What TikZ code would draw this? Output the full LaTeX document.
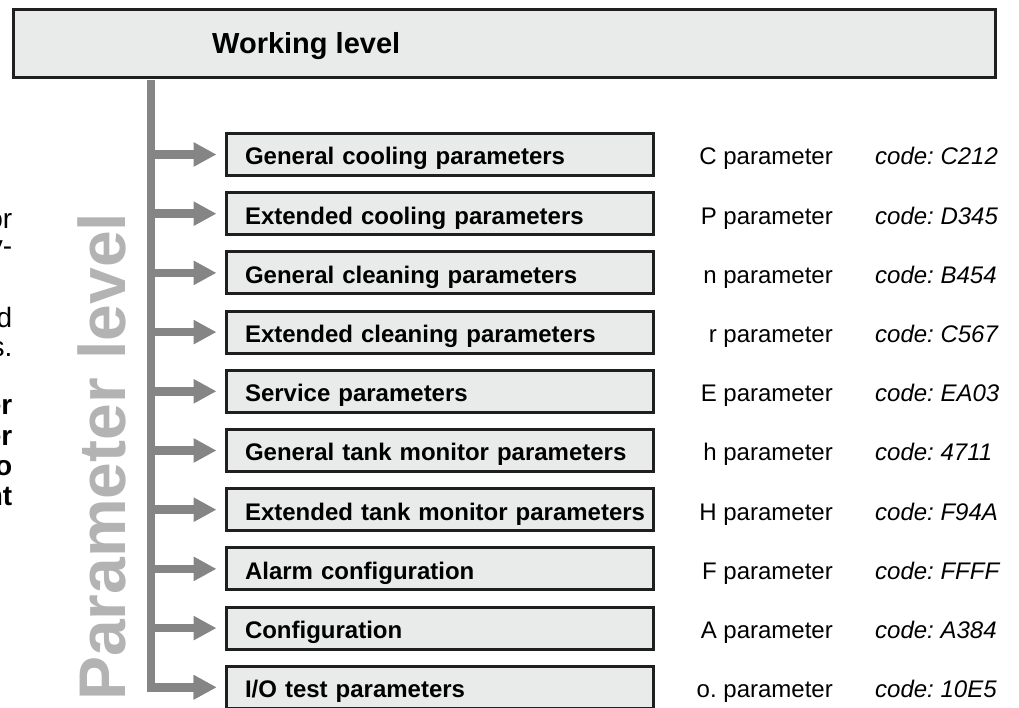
\documentclass[tikz,border=0pt]{standalone}
\usepackage{fontspec}
\setmainfont{Liberation Sans}
\usetikzlibrary{arrows.meta}
\definecolor{boxfill}{HTML}{E9EAEA}
\definecolor{branchgray}{HTML}{858585}
\definecolor{markgray}{HTML}{B3B3B3}
\frenchspacing
\begin{document}
\begin{tikzpicture}[x=1pt, y=1pt, line join=miter,
	levelbox/.style={draw=black!88, fill=boxfill, line width=3pt, inner sep=0pt},
	parbox/.style={levelbox, anchor=west, minimum width=427pt, minimum height=42pt, text width=389pt, inner xsep=19pt, align=left, text height=23pt, text depth=2pt, font=\fontsize{24}{28}\selectfont\bfseries},
	plabel/.style={anchor=base east, inner sep=0pt, font=\fontsize{24}{28}\selectfont},
	clabel/.style={anchor=base west, inner sep=0pt, font=\fontsize{24}{28}\selectfont\itshape},
	frag/.style={anchor=base east, inner sep=0pt, font=\fontsize{28}{32}\selectfont},
	branch/.style={branchgray, line width=8.5pt, -{Triangle[length=23pt, width=23pt]}, shorten >=8pt}]
	\useasboundingbox (0,0) rectangle (1019,707);
	\clip (0,0) rectangle (1019,707);
	% cut-off text at the left edge
	\node[frag] (f1) at (12.5,478) {or};
	\node[frag] (f2) at (12.5,451) {y-};
	\node[frag] (f3) at (12.5,379) {d};
	\node[frag] (f4) at (12.5,350) {s.};
	\node[frag, font=\fontsize{28}{32}\selectfont\bfseries] (f5) at (12.5,292) {er};
	\node[frag, font=\fontsize{28}{32}\selectfont\bfseries] (f6) at (12.5,261) {er};
	\node[frag, font=\fontsize{28}{32}\selectfont\bfseries] (f7) at (12.5,231) {o};
	\node[frag, font=\fontsize{28}{32}\selectfont\bfseries] (f8) at (12.5,202) {nt};
	\node[rotate=90, anchor=base west, inner sep=0pt, text=markgray, font=\fontsize{66}{70}\selectfont\bfseries] (plevel) at (125,6) {Parameter level};
	\node[levelbox, minimum width=982pt, minimum height=68pt] (top) at (504.5,663.5) {};
	\node[anchor=base west, inner sep=0pt, font=\fontsize{29}{34}\selectfont\bfseries] (wlevel) at (212,653) {Working level};
	\foreach \txt/\ptype/\code [count=\i from 0] in {
		General cooling parameters/C parameter/C212,
		Extended cooling parameters/P parameter/D345,
		General cleaning parameters/n parameter/B454,
		Extended cleaning parameters/r parameter/C567,
		Service parameters/E parameter/EA03,
		General tank monitor parameters/h parameter/4711,
		Extended tank monitor parameters/H parameter/F94A,
		Alarm configuration/F parameter/FFFF,
		Configuration/A parameter/A384,
		{I/O test parameters}/o. parameter/10E5}{
		\pgfmathsetmacro\yc{552.5-59.2*\i}
		\node[parbox] (b\i) at (224.5,\yc) {\mbox{\txt}};
		\coordinate (s\i) at (151,\yc);
		\node[plabel] (p\i) at (833,\yc-10.5) {\ptype};
		\node[clabel] (c\i) at (875,\yc-10.5) {code: \code};
		\draw[branch] (s\i) -- (b\i.west);
	}
	\draw[branch, shorten <=1.5pt] (top.south -| s9) |- (b9.west);
\end{tikzpicture}
\end{document}
